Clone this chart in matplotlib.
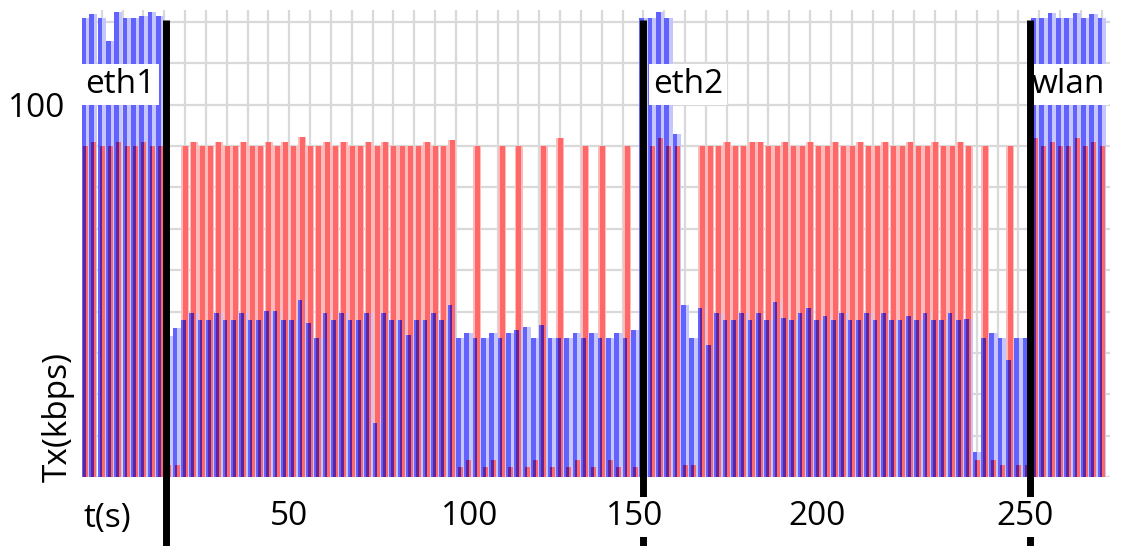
import numpy as np
import matplotlib
matplotlib.use('Agg')
import matplotlib.pyplot as plt
from matplotlib.transforms import blended_transform_factory

plt.rcParams['font.family'] = ['Open Sans', 'DejaVu Sans']

# one sample every 2 s
dt = 2

# blue series (per sample)
blue_tx = [121, 122, 121, 115.5, 122.5, 121, 121, 121.5, 122.5, 121.5,
           44, 46,
           48, 49.6, 48, 48, 49.6, 48, 48, 49.6, 48, 48, 50.2, 50.2, 48, 48, 52.8, 47.3,
           43.6, 49.6, 48, 49.6, 48, 48, 49.6, 23, 49.6, 48, 48, 44.3, 48, 48, 49.6, 48, 51.6,
           43.6, 44.8, 43.6, 43.6, 44.8, 43.6, 44.8, 45.5, 46.3, 43.6, 46.7, 43.6, 43.6,
           43.6, 44.8, 43.6, 44.8, 43.6, 43.6, 44.8, 43.6, 45.5,
           121, 121, 122.4, 121, 93, 51.6, 43.6, 50.8, 42, 49.6, 48, 48, 49.6, 48,
           49.6, 48, 52.4, 48.4, 48, 49.6, 50.8, 48, 49, 48, 49.6, 48, 48, 49.6, 48, 49.6,
           48, 48, 49, 48, 49.6, 48, 48, 49.6, 48, 48.2,
           16, 43.6, 44.8, 43.6, 38.3, 43.6, 43.6,
           121, 121, 122.2, 121, 121, 122.2, 121, 122, 121]

# red series
red_tx = [90, 91, 90, 90, 91, 90, 90, 91, 90, 90,
          13, 13,
          90, 91, 90, 90, 91, 90, 90, 91, 90, 90, 91, 90, 91, 90, 92.3, 90,
          90, 91, 90, 91, 90, 90, 91, 90, 91, 90, 90, 90, 90, 91, 90, 90, 91.5,
          12.5, 14, 90, 12.5, 14, 90, 12.5, 90, 12.5, 14, 90, 12.5, 92,
          12.5, 14, 90, 12.5, 90, 14, 12.5, 90, 12.5,
          90, 90, 92, 90, 90, 13, 13, 90, 90, 90, 91, 90, 90, 91,
          91, 90, 90, 91, 90, 90, 91, 90, 90, 91, 90, 90, 91, 90, 90, 91,
          90, 90, 91, 90, 90, 91, 90, 90, 91, 90,
          14, 90, 14, 13, 90, 13, 13,
          92, 90, 91, 90, 90, 92, 90, 91, 90]

# interface switches
switch_t = [20.4, 134.8, 227.9]
iface_names = ['eth1', 'eth2', 'wlan']
iface_label_t = [1.0, 137.3, 228.3]

# x labels as placed on the original
tick_pos = [50, 93.4, 133.0, 176.7, 226.6]
tick_labels = ['50', '100', '150', '200', '250']

blue = np.array(blue_tx)
red = np.array(red_tx)
both = np.minimum(blue, red)
t = np.arange(len(blue)) * dt

fig = plt.figure(figsize=(11.23, 5.46), dpi=100)
ax = fig.add_axes([82/1123, 69/546, 1028/1123, 467/546])

# light fills first, then darker cores, then the overlap
ax.bar(t + 0.15, red, width=1.85, align='edge', color='#ffbaba', lw=0)
ax.bar(t, blue, width=2.0, align='edge', color='#c6c6ff', lw=0)
ax.bar(t, blue, width=1.15, align='edge', color='#6262ff', lw=0)
ax.bar(t + 0.5, red, width=1.2, align='edge', color='#ff6868', lw=0)
ax.bar(t + 0.5, both, width=0.65, align='edge', color='#62249a', lw=0)

ax.set_xlim(0.28, 247.0)
ax.set_ylim(10, 122.9)
ax.set_axisbelow(True)
ax.set_xticks([])
ax.set_xticks(np.arange(5, 246, 5), minor=True)
ax.set_yticks([100], ['100'])
ax.set_yticks(np.arange(10, 121, 10), minor=True)
ax.grid(which='both', color='#d9d9d9', lw=1.6)
ax.tick_params(which='both', length=0)
ax.tick_params(axis='y', pad=12, labelsize=24)
for s in ax.spines.values():
    s.set_visible(False)

ax.vlines(switch_t, -6.8, 120.5, colors='black', lw=5, clip_on=False, zorder=4)

for x, name in zip(iface_label_t, iface_names):
    ax.text(x, 105, name, fontsize=24, ha='left', va='center', zorder=3,
            bbox=dict(fc='white', ec='none', pad=3))

trans = blended_transform_factory(ax.transData, ax.transAxes)
for x, lab in zip(tick_pos, tick_labels):
    ax.text(x, -0.085, lab, fontsize=24, ha='center', va='center', transform=trans,
            zorder=5, clip_on=False, bbox=dict(fc='white', ec='none', pad=2.5))
ax.text(6.3, -0.088, 't(s)', fontsize=24, ha='center', va='center', transform=trans)

fig.text(58/1123, (546-482)/546, 'Tx(kbps)', fontsize=24, rotation=90,
         ha='center', va='bottom')

fig.savefig('out.png', dpi=100)
